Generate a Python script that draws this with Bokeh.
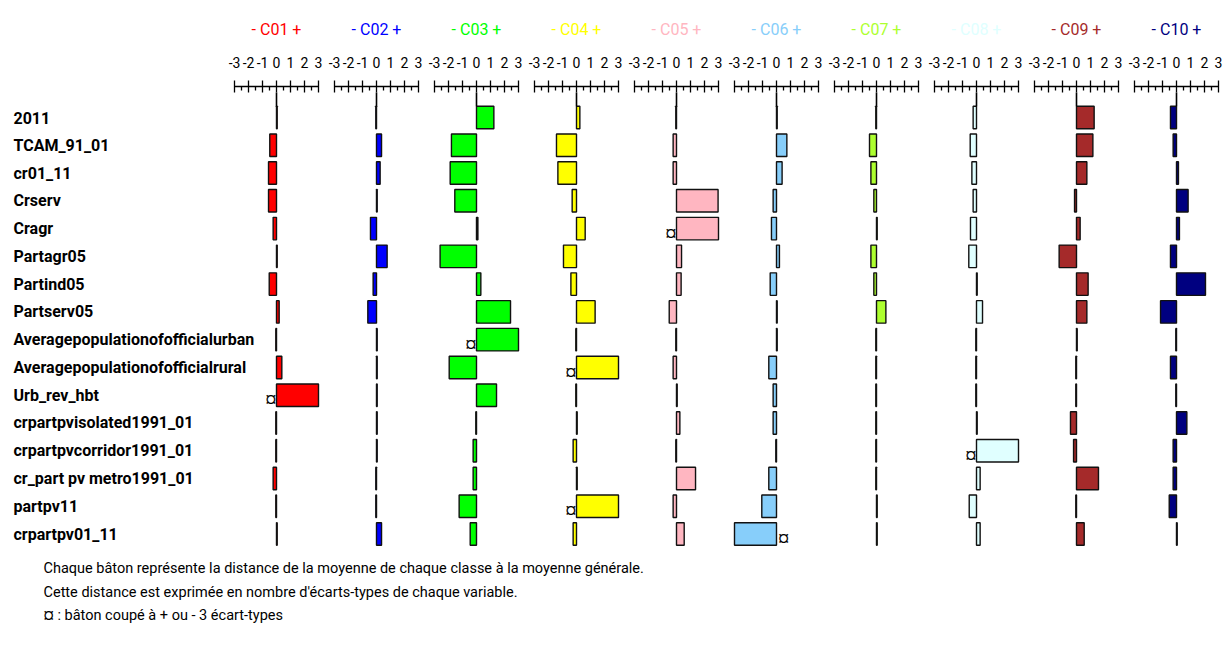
from bokeh.plotting import figure
from bokeh.models import Range1d, ColumnDataSource
from bokeh.core.properties import value
from bokeh.embed import file_html
from bokeh.resources import INLINE

# ---------------- data ----------------
variables = ["2011", "TCAM_91_01", "cr01_11", "Crserv", "Cragr", "Partagr05",
             "Partind05", "Partserv05", "Averagepopulationofofficialurban",
             "Averagepopulationofofficialrural", "Urb_rev_hbt",
             "crpartpvisolated1991_01", "crpartpvcorridor1991_01",
             "cr_part pv metro1991_01", "partpv11", "crpartpv01_11"]

classes = ["C01", "C02", "C03", "C04", "C05", "C06", "C07", "C08", "C09", "C10"]
class_colors = ["#FF0000", "#0000FF", "#00FF00", "#FFFF00", "#FFB6C1",
                "#87CEFA", "#ADFF2F", "#E0FFFF", "#A52A2A", "#000080"]

c01 = [0.05, -0.48, -0.57, -0.57, -0.24, 0.05, -0.52, 0.19, -0.05, 0.38, 3.4, -0.05, -0.05, -0.24, -0.05, 0.05]
c02 = [-0.05, 0.36, 0.26, 0.05, -0.43, 0.76, -0.24, -0.62, 0.05, 0.05, 0.05, 0.05, 0.05, -0.05, -0.05, 0.36]
c03 = [1.24, -1.79, -1.88, -1.55, 0.10, -2.60, 0.31, 2.43, 3.4, -1.95, 1.43, -0.05, -0.24, -0.24, -1.24, -0.45]
c04 = [0.24, -1.43, -1.33, -0.31, 0.62, -0.93, -0.40, 1.33, -0.05, 3.4, -0.05, 0.05, -0.24, 0.05, 3.4, -0.24]
c05 = [-0.05, -0.24, -0.24, 2.97, 3.4, 0.36, 0.33, -0.52, -0.05, -0.24, 0.05, 0.24, -0.05, 1.36, -0.24, 0.55]
c06 = [0.05, 0.74, 0.40, -0.24, -0.36, 0.21, -0.45, 0.05, 0.05, -0.55, -0.24, -0.24, -0.05, -0.55, -1.05, -3.4]
c07 = [-0.05, -0.50, -0.40, -0.19, 0.05, -0.40, -0.19, 0.67, -0.05, -0.05, -0.05, -0.05, -0.05, -0.05, 0.05, 0.05]
c08 = [-0.24, -0.45, -0.33, -0.24, -0.43, -0.55, 0.05, 0.43, -0.05, -0.05, -0.05, 0.05, 3.4, 0.26, -0.52, 0.26]
c09 = [1.26, 1.17, 0.74, -0.14, 0.26, -1.24, 0.83, 0.74, 0.05, -0.05, -0.05, -0.43, -0.21, 1.57, -0.05, 0.55]
c10 = [-0.43, -0.24, 0.14, 0.83, 0.21, -0.43, 2.07, -1.14, -0.05, -0.43, -0.05, 0.74, -0.24, -0.24, -0.52, 0.05]
class_values = [c01, c02, c03, c04, c05, c06, c07, c08, c09, c10]

tick_values = [-3, -2, -1, 0, 1, 2, 3]
minor_tick_values = [-2.5, -1.5, -0.5, 0.5, 1.5, 2.5]
limit = 3

notes = ["Chaque bâton représente la distance de la moyenne de chaque classe à la moyenne générale.",
         "Cette distance est exprimée en nombre d'écarts-types de chaque variable.",
         "¤ : bâton coupé à + ou - 3 écart-types"]

# ---------------- layout ----------------
W, H = 1226, 640
PX = 14.0            # pixels per unit of standard deviation
X0 = 276.0           # pixel position of C01 zero
STEP = 100.0 / PX    # panel spacing in data units
ROW = 27.77
Y0 = 117.0

def ypx(v):
    return (v - Y0) / ROW

def xpx(v):
    return (v - X0) / PX

FONT = value("Roboto")

p = figure(width=W, height=H, output_backend="svg", toolbar_location=None,
           x_range=Range1d(-X0 / PX, (W - X0) / PX),
           y_range=Range1d((H - Y0) / ROW, -Y0 / ROW),
           min_border=0, outline_line_color=None)
p.xaxis.visible = False
p.yaxis.visible = False
p.grid.visible = False
p.background_fill_color = "white"
p.border_fill_color = "white"

# row labels
p.text(x=[xpx(13)] * len(variables), y=list(range(len(variables))), text=variables,
       text_font=FONT, text_font_size="16px", text_font_style="bold",
       text_align="left", text_baseline="middle", text_color="black")

bar_h = 0.81
for i, (cls, col, vals) in enumerate(zip(classes, class_colors, class_values)):
    off = i * STEP
    # bars
    shown = [max(-limit, min(limit, v)) for v in vals]
    src = ColumnDataSource(dict(
        y=list(range(len(vals))),
        left=[off + min(0, s) for s in shown],
        right=[off + max(0, s) for s in shown]))
    p.hbar(y="y", left="left", right="right", height=bar_h, source=src,
           fill_color=col, line_color="#111111", line_width=1.4)
    # clipped markers
    mx, my = [], []
    for r, v in enumerate(vals):
        if v > limit:
            mx.append(off - 0.40); my.append(r + 0.15)
        elif v < -limit:
            mx.append(off + 0.50); my.append(r + 0.15)
    if mx:
        p.text(x=mx, y=my, text=["¤"] * len(mx), text_font=FONT,
               text_font_size="15px", text_align="center", text_baseline="middle",
               text_color="black")
    # axis
    ay = ypx(86)
    p.segment(x0=[off - limit], y0=[ay], x1=[off + limit], y1=[ay],
              line_color="black", line_width=1.3)
    p.segment(x0=[off + t for t in tick_values], y0=[ypx(80)] * len(tick_values),
              x1=[off + t for t in tick_values], y1=[ypx(92)] * len(tick_values),
              line_color="black", line_width=1.3)
    p.segment(x0=[off + t for t in minor_tick_values], y0=[ay] * len(minor_tick_values),
              x1=[off + t for t in minor_tick_values], y1=[ypx(90)] * len(minor_tick_values),
              line_color="black", line_width=1.3)
    p.segment(x0=[off], y0=[ypx(92)], x1=[off], y1=[-bar_h / 2],
              line_color="black", line_width=1.6)
    # tick labels
    p.text(x=[off + t for t in tick_values], y=[ypx(61.5)] * len(tick_values),
           text=[str(t) for t in tick_values], text_font=FONT, text_font_size="14px",
           text_align="center", text_baseline="middle", text_color="black")
    # title
    p.text(x=[off], y=[ypx(28.5)], text=["- " + cls + " +"], text_font=FONT,
           text_font_size="16px", text_align="center", text_baseline="middle",
           text_color=col)

# footnotes
p.text(x=[xpx(43)] * len(notes), y=[ypx(568), ypx(592), ypx(615)], text=notes,
       text_font=FONT, text_font_size="14.5px", text_align="left",
       text_baseline="middle", text_color="black")

open("out.html", "w").write(file_html(p, INLINE))
